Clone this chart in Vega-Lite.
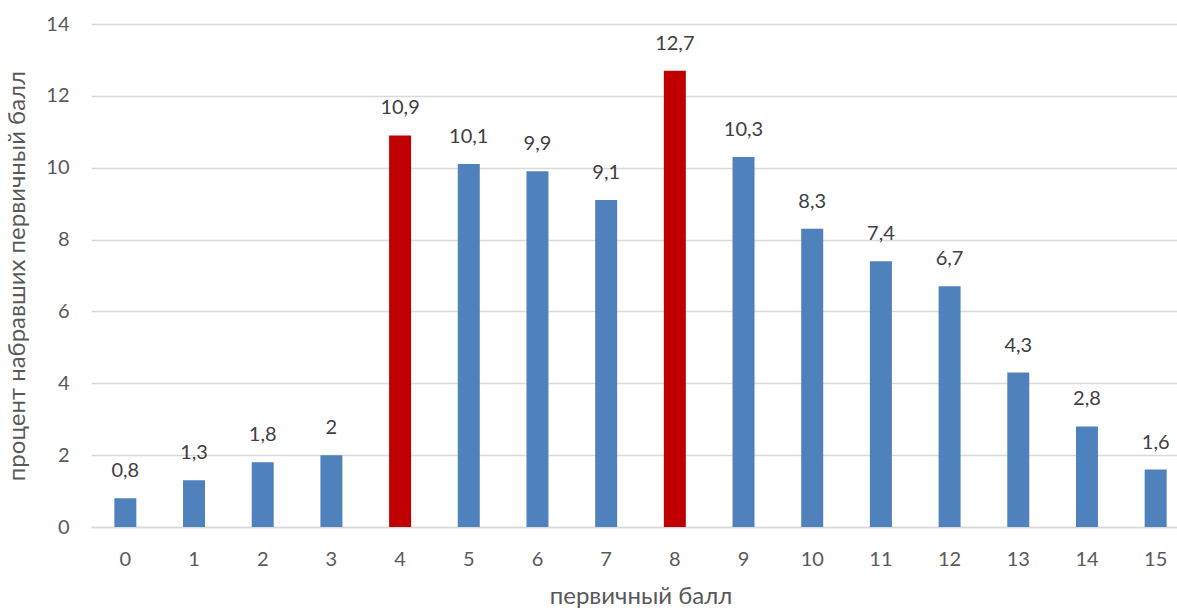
{
  "$schema": "https://vega.github.io/schema/vega-lite/v6.json",
  "autosize": {"type": "none"},
  "padding": {"left": 91, "top": 24, "right": 0, "bottom": 81},
  "width": 1099,
  "height": 503,
  "background": "white",
  "config": {
    "locale": {"number": {"decimal": ",", "thousands": " ", "grouping": [3], "currency": ["", ""]}},
    "font": "Lato",
    "view": {"stroke": null}
  },
  "data": {
    "values": [
      {"ball": "0", "pct": 0.8, "group": "a"},
      {"ball": "1", "pct": 1.3, "group": "a"},
      {"ball": "2", "pct": 1.8, "group": "a"},
      {"ball": "3", "pct": 2.0, "group": "a"},
      {"ball": "4", "pct": 10.9, "group": "b"},
      {"ball": "5", "pct": 10.1, "group": "a"},
      {"ball": "6", "pct": 9.9, "group": "a"},
      {"ball": "7", "pct": 9.1, "group": "a"},
      {"ball": "8", "pct": 12.7, "group": "b"},
      {"ball": "9", "pct": 10.3, "group": "a"},
      {"ball": "10", "pct": 8.3, "group": "a"},
      {"ball": "11", "pct": 7.4, "group": "a"},
      {"ball": "12", "pct": 6.7, "group": "a"},
      {"ball": "13", "pct": 4.3, "group": "a"},
      {"ball": "14", "pct": 2.8, "group": "a"},
      {"ball": "15", "pct": 1.6, "group": "a"}
    ]
  },
  "encoding": {
    "x": {
      "field": "ball", "type": "ordinal", "sort": null,
      "scale": {"paddingInner": 0.68, "paddingOuter": 0.34},
      "axis": {
        "title": "первичный балл", "titleFontSize": 24, "titleFontWeight": "normal", "titleColor": "#595959", "titlePadding": 15,
        "labelAngle": 0, "labelFontSize": 20, "labelColor": "#595959", "labelPadding": 22,
        "ticks": false, "domainColor": "#d9d9d9", "domainWidth": 1.5, "grid": false
      }
    },
    "y": {
      "field": "pct", "type": "quantitative",
      "scale": {"domain": [0, 14]},
      "axis": {
        "title": "процент набравших первичный балл", "titleFontSize": 24, "titleFontWeight": "normal", "titleColor": "#595959", "titlePadding": 16,
        "values": [0, 2, 4, 6, 8, 10, 12, 14], "labelFontSize": 20, "labelColor": "#595959", "labelPadding": 22,
        "ticks": false, "domain": false, "gridColor": "#d9d9d9", "gridWidth": 1.5
      }
    }
  },
  "layer": [
    {
      "mark": {"type": "bar"},
      "encoding": {
        "color": {"field": "group", "type": "nominal", "scale": {"domain": ["a", "b"], "range": ["#4f81bd", "#c00000"]}, "legend": null}
      }
    },
    {
      "mark": {"type": "text", "baseline": "bottom", "dy": -17, "fontSize": 20, "color": "#404040"},
      "encoding": {
        "text": {"field": "pct", "type": "quantitative", "format": ".1~f"}
      }
    }
  ]
}
